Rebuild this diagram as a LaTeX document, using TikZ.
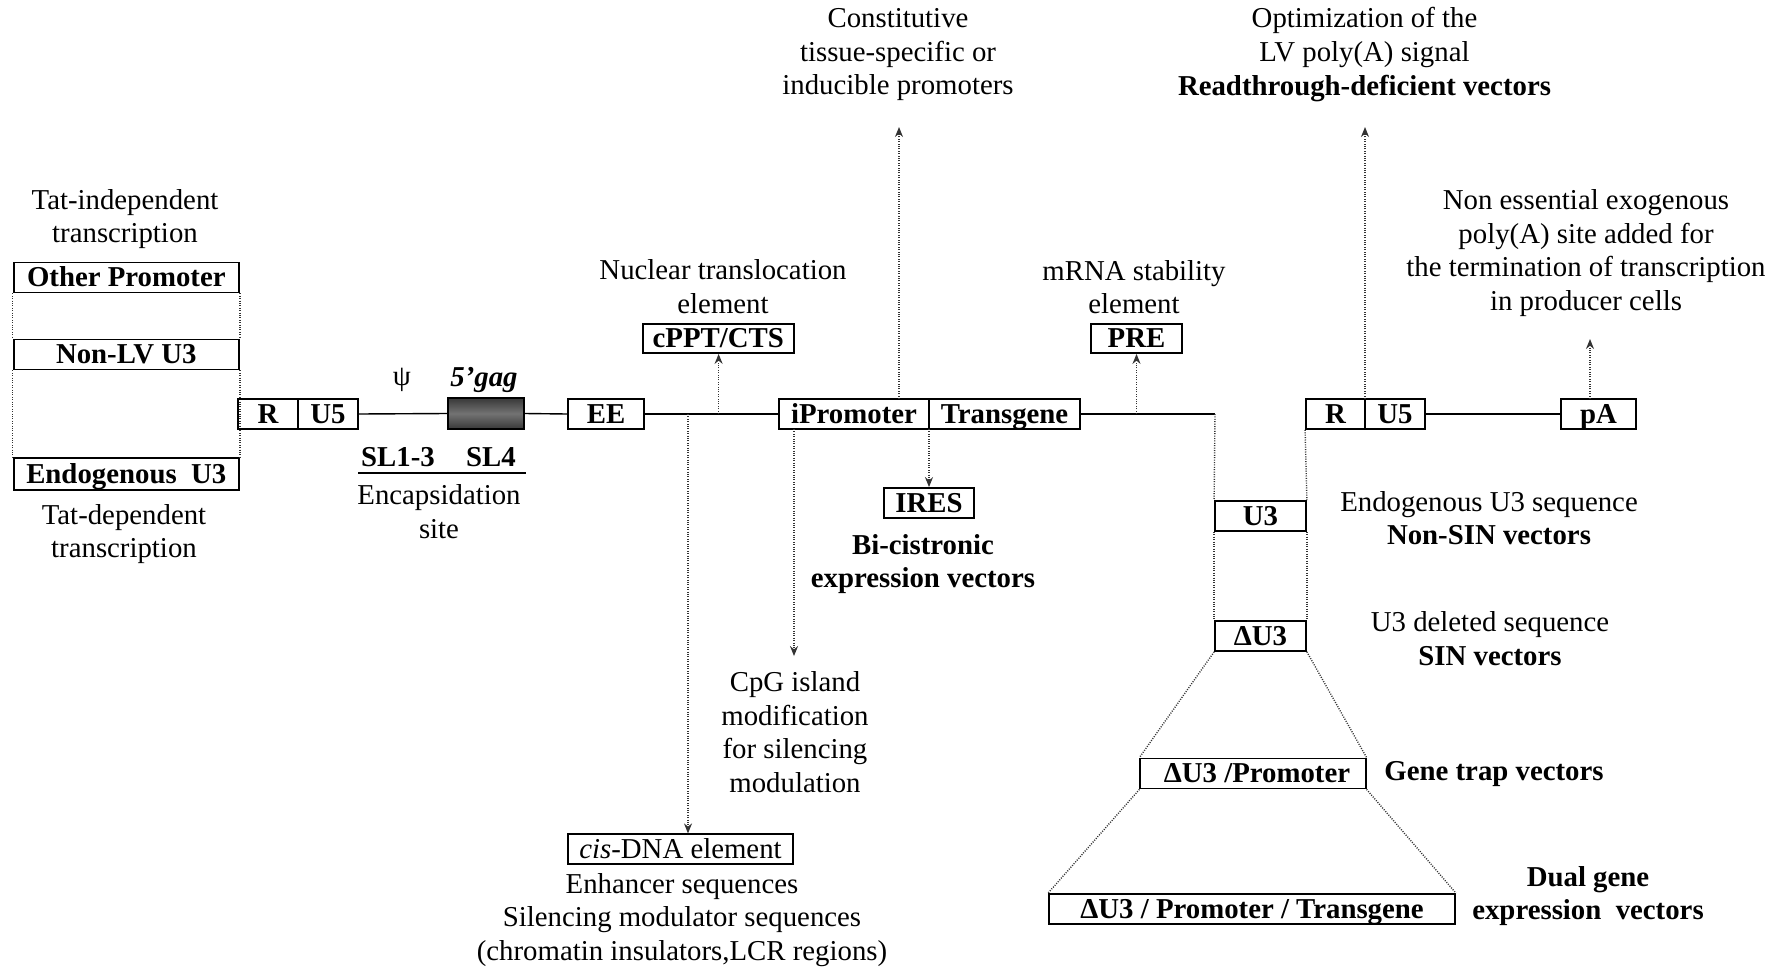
\documentclass[tikz,border=0pt]{standalone}
\usepackage{fontspec}
\setmainfont{Liberation Serif}
\usetikzlibrary{arrows.meta,calc}
\newcommand{\bfnt}{\fontsize{14.4}{16.8}\selectfont\bfseries}
\newcommand{\nfnt}{\fontsize{14.4}{16.8}\selectfont}
\tikzset{
  gbox/.style={draw, line width=0.9pt, inner sep=0pt, minimum height=15pt, text height=10.8pt, text depth=1.8pt, font=\bfnt},
  conn/.style={line width=0.7pt},
  dots/.style={line width=0.7pt, dash pattern=on 0.5pt off 0.7pt, black!80},
  darr/.style={dots, -{Stealth[length=5pt,width=4pt]}},
  txt/.style={align=center, inner sep=0pt},
}
\begin{document}
\begin{tikzpicture}[x=0.5pt,y=-0.5pt,font=\nfnt]
\useasboundingbox (0,0) rectangle (1783,969);
% left promoter stack
\node[gbox, minimum width=112.7pt] (op) at (126.3,277.5) {Other Promoter};
\node[gbox, minimum width=112.7pt] (nlv) at (126.3,354.5) {Non-LV U3};
\node[gbox, minimum width=112.7pt, minimum height=16pt] (endo) at (126.3,474) {Endogenous\ \ U3};
\draw[dots] (op.south west) -- (nlv.north west) (op.south east) -- (nlv.north east);
\draw[dots] (nlv.south west) -- (endo.north west) (nlv.south east) -- (endo.north east);
\node[txt] (tatind) at (125,219) {Tat-independent\\transcription};
\node[txt] (tatdep) at (124,534) {Tat-dependent\\transcription};
% 5' LTR
\node[gbox, minimum width=30pt] (r1) at (268,414) {R};
\node[gbox, minimum width=30pt] (u51) at (328,414) {U5};
\node[draw, line width=0.9pt, minimum width=38pt, minimum height=15.5pt, inner sep=0pt,
      top color=black!78, bottom color=black!78, middle color=black!55] (gag) at (486,413.5) {};
\node[txt] (psi) at (402,380) {ψ};
\node[txt, font=\bfnt\itshape] (gagl) at (484,380) {5’gag};
\node[txt, font=\bfnt] (sl13) at (398,457) {SL1-3};
\node[txt, font=\bfnt] (sl4) at (491,457) {SL4};
\coordinate (ruleL) at (358,473);
\coordinate (ruleR) at (526,473);
\draw[conn] (ruleL) -- (ruleR);
\node[txt] (encaps) at (439,511.5) {Encapsidation\\site};
\node[gbox, minimum width=38pt] (ee) at (606,414) {EE};
\node[gbox, minimum width=75.3pt, minimum height=14.5pt] (cppt) at (718.3,338.5) {cPPT/CTS};
\node[txt] (nuc) at (723,286.5) {Nuclear translocation\\element};
\node[gbox, minimum width=75pt] (iprom) at (854,414) {iPromoter};
\node[gbox, minimum width=75.5pt] (tg) at (1004.5,414) {Transgene};
\node[gbox, minimum width=45pt] (ires) at (929,503) {IRES};
\node[txt, font=\bfnt] (bicis) at (923,564) {Bi-cistronic\\expression vectors};
\node[gbox, minimum width=45.5pt, minimum height=14.5pt] (pre) at (1136.5,338.5) {PRE};
\node[txt] (mrna) at (1134,287) {mRNA stability\\element};
\node[txt] (const) at (898,54.6) {Constitutive\\tissue-specific or\\inducible promoters};
\node[txt] (opt) at (1364.5,54.6) {Optimization of the\\LV poly(A) signal\\\textbf{Readthrough-deficient vectors}};
\node[txt] (cpg) at (795,732) {CpG island\\modification\\for silencing\\modulation};
\node[gbox, minimum width=112.8pt, font=\nfnt] (cis) at (680.5,849.3) {\textit{cis}-DNA element};
\node[txt] (enh) at (682,920) {Enhancer sequences\\Silencing modulator sequences\\(chromatin insulators,LCR regions)};
% main line
\draw[conn] (u51.east) -- (gag.west);
\draw[conn] (gag.east) -- (ee.west);
\draw[conn] (ee.east) -- (iprom.west);
\coordinate (corner) at (1215,414);
\draw[conn] (tg.east) -- (corner);
% 3' LTR
\node[gbox, minimum width=29.5pt] (r2) at (1335.5,414) {R};
\node[gbox, minimum width=30pt] (u52) at (1395,414) {U5};
\node[gbox, minimum width=37.5pt] (pa) at (1598.5,414) {pA};
\draw[conn] (u52.east) -- (pa.west);
\node[txt] (nones) at (1586,253) {Non essential exogenous\\poly(A) site added for\\the termination of transcription\\in producer cells};
\node[gbox, minimum width=45.5pt] (u3) at (1260.5,516) {U3};
\node[gbox, minimum width=45.5pt] (du3) at (1260.5,636) {ΔU3};
\node[gbox, minimum width=112.7pt] (du3p) at (1253,773.5) {\hspace{4pt}ΔU3 /Promoter};
\node[gbox, minimum width=203pt] (du3pt) at (1252,909) {ΔU3 / Promoter / Transgene\hspace{10pt}};
\node[txt] (endoseq) at (1489,518) {Endogenous U3 sequence\\\textbf{Non-SIN vectors}};
\node[txt] (deleted) at (1490,638.5) {U3 deleted sequence\\\textbf{SIN vectors}};
\node[txt, font=\bfnt] (genetrap) at (1494,774) {Gene trap vectors};
\node[txt, font=\bfnt] (dual) at (1588,896) {Dual gene\\expression\ \ vectors};
\draw[dots] (corner) -- (u3.north west);
\draw[dots] (r2.south west) -- (u3.north east);
\draw[dots] (u3.south west) -- (du3.north west) (u3.south east) -- (du3.north east);
\draw[dots] (du3.south west) -- (du3p.north west) (du3.south east) -- (du3p.north east);
\draw[dots] (du3p.south west) -- (du3pt.north west) (du3p.south east) -- (du3pt.north east);
% arrows
\coordinate (aNuc) at (718.6,414);
\draw[darr] (aNuc) -- (aNuc |- cppt.south);
\coordinate (aCis) at (688,414);
\draw[darr] (aCis) -- (aCis |- cis.north);
\coordinate (aConst) at (899,399);
\draw[darr] (aConst) -- (899,127);
\coordinate (aCpg) at (794,429);
\draw[darr] (aCpg) -- ([yshift=7.5pt]cpg.north -| aCpg);
\coordinate (aIres) at (929,429);
\draw[darr] (aIres) -- (ires.north);
\coordinate (aPre) at (1136.5,414);
\draw[darr] (aPre) -- (pre.south);
\coordinate (aOpt) at (1365,399);
\draw[darr] (aOpt) -- (1365,127);
\coordinate (aPa) at (1590,399);
\draw[darr] (aPa) -- (1590,339);
\end{tikzpicture}
\end{document}
